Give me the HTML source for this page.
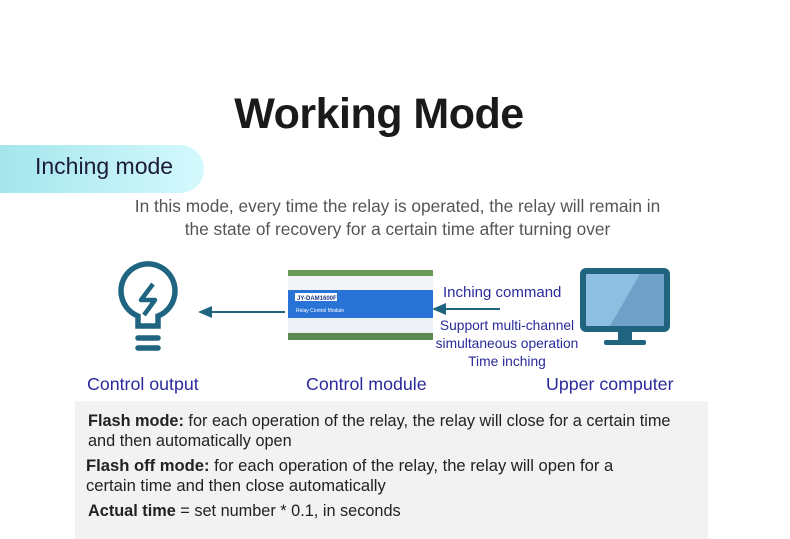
<!DOCTYPE html><html><head><style>
body{margin:0;width:790px;height:539px;background:#fff;position:relative;overflow:hidden;font-family:"Liberation Sans",sans-serif}
.a{position:absolute;white-space:nowrap}
</style></head><body>
<div class="a" style="left:0;top:90px;width:758px;text-align:center;font-size:43px;font-weight:bold;color:#1a1a1a;letter-spacing:-0.5px">Working Mode</div>
<div class="a" style="left:0;top:145px;width:204px;height:48px;border-radius:0 24px 24px 0;background:linear-gradient(90deg,#a4e6ec,#d4f9fd)"></div>
<div class="a" style="left:35px;top:153px;font-size:23px;color:#1b1b3a">Inching mode</div>
<div class="a" style="left:0;top:195px;width:795px;text-align:center;font-size:17.3px;line-height:23px;color:#555">In this mode, every time the relay is operated, the relay will remain in<br>the state of recovery for a certain time after turning over</div>
<svg class="a" style="left:0;top:0" width="790" height="400">
<g fill="none" stroke="#1f6480" stroke-width="5.5" stroke-linecap="round">
<path d="M138,326 L138,316 A27,27 0 1 1 158,316 L158,326 Z"/>
<line x1="138" y1="338" x2="158" y2="338"/><line x1="138" y1="348" x2="158" y2="348"/>
</g>
<path d="M153,284 L141,300 L155,300 L144,315" fill="none" stroke="#1f6480" stroke-width="4.5" stroke-linejoin="round"/>
<line x1="285" y1="312" x2="208" y2="312" stroke="#1f6480" stroke-width="2"/><polygon points="198,312 212,306 212,318" fill="#1f6480"/>
<line x1="500" y1="309" x2="442" y2="309" stroke="#1f6480" stroke-width="2"/><polygon points="432,309 446,303 446,315" fill="#1f6480"/>
<rect x="288" y="270" width="145" height="6" fill="#6a9a5a"/>
<rect x="288" y="276" width="145" height="14" fill="#f2f4f8"/>
<rect x="288" y="290" width="145" height="28" fill="#2a73d6"/>
<rect x="295" y="293" width="42" height="8" fill="#fff"/>
<text x="297" y="300" font-size="6" fill="#1a3a8a" font-weight="bold">JY-DAM1600F</text>
<text x="296" y="312" font-size="5" fill="#fff">Relay Control Module</text>
<rect x="288" y="318" width="145" height="15" fill="#eef2f8"/>
<rect x="288" y="333" width="145" height="7" fill="#5a8a50"/>
<rect x="580" y="268" width="90" height="64" rx="6" fill="#206480"/>
<rect x="586" y="274" width="78" height="52" fill="#8fbfe0"/>
<polygon points="640,274 664,274 664,326 610,326" fill="#6fa0c8"/>
<rect x="618" y="332" width="14" height="10" fill="#206480"/>
<rect x="604" y="340" width="42" height="5" rx="2" fill="#206480"/>
</svg>
<div class="a" style="left:443px;top:284px;font-size:15px;color:#2a2a9a">Inching command</div>
<div class="a" style="left:429px;top:317px;width:156px;text-align:center;font-size:13.8px;line-height:18px;color:#2a2a9a">Support multi-channel<br>simultaneous operation<br>Time inching</div>
<div class="a" style="left:87px;top:374px;font-size:17.8px;color:#2a2a9a">Control output</div>
<div class="a" style="left:306px;top:374px;font-size:17.8px;color:#2a2a9a">Control module</div>
<div class="a" style="left:546px;top:374px;font-size:17.8px;color:#2a2a9a">Upper computer</div>
<div class="a" style="left:75px;top:401px;width:633px;height:138px;background:#f2f2f2"></div>
<div class="a" style="left:88px;top:411px;font-size:16.3px;line-height:20px;color:#222"><b>Flash mode:</b> for each operation of the relay, the relay will close for a certain time<br>and then automatically open</div>
<div class="a" style="left:86px;top:456px;font-size:16.6px;line-height:20px;color:#222"><b>Flash off mode:</b> for each operation of the relay, the relay will open for a<br>certain time and then close automatically</div>
<div class="a" style="left:88px;top:502px;font-size:16.3px;color:#222"><b>Actual time</b> = set number * 0.1, in seconds</div>
</body></html>
